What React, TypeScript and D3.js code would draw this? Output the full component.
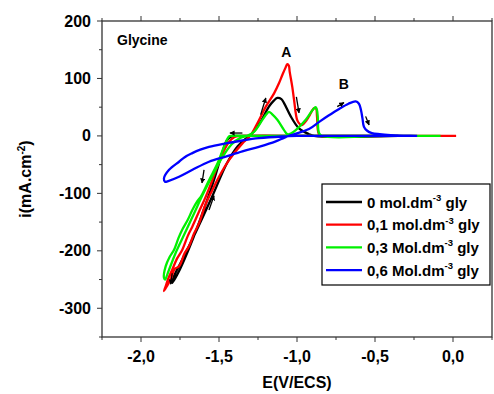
import * as d3 from 'd3';

// cyclic voltammograms, [E (V/ECS), i (mA.cm-2)] in scan order
const black: [number, number][] = [
    [-0.35, 0], [-0.6, 0], [-0.89, 0], [-1.0, 0], [-1.2, 0], [-1.38, 0], [-1.42, -1], [-1.45, -8],
    [-1.48, -30], [-1.53, -75], [-1.6, -130], [-1.68, -188], [-1.75, -232], [-1.8, -256],
    [-1.79, -245], [-1.735, -215], [-1.65, -168], [-1.543, -105], [-1.45, -48], [-1.38, -18],
    [-1.32, -3], [-1.286, 5], [-1.233, 25], [-1.18, 51], [-1.15, 61], [-1.126, 66], [-1.1, 64],
    [-1.083, 57], [-1.04, 34], [-0.987, 13], [-0.923, 3], [-0.89, 0], [-0.35, 0],
];

const red: [number, number][] = [
    [0.02, 0], [-0.5, 0], [-1.0, 0], [-1.3, 0], [-1.4, -2], [-1.44, -12], [-1.5, -45],
    [-1.55, -82], [-1.585, -106], [-1.63, -133], [-1.671, -158], [-1.7, -174], [-1.735, -198],
    [-1.77, -214], [-1.8, -233], [-1.825, -248], [-1.842, -262], [-1.853, -270],
    [-1.835, -262], [-1.81, -250], [-1.785, -232], [-1.756, -227], [-1.72, -204], [-1.692, -192],
    [-1.66, -170], [-1.628, -152], [-1.59, -122], [-1.553, -100], [-1.5, -71], [-1.436, -42],
    [-1.35, -13], [-1.3, 0], [-1.254, 22], [-1.2, 51], [-1.147, 74], [-1.115, 92], [-1.094, 106],
    [-1.075, 118], [-1.062, 125], [-1.052, 122], [-1.047, 112], [-1.03, 85], [-1.019, 63],
    [-0.998, 27], [-0.98, 20], [-0.966, 19], [-0.945, 25], [-0.923, 34], [-0.891, 48],
    [-0.878, 48], [-0.872, 35], [-0.866, 10], [-0.855, 1], [-0.8, 0],
];

const green: [number, number][] = [
    [-0.08, 0], [-0.5, 0], [-1.0, 0], [-1.3, 0], [-1.42, 0], [-1.436, -1], [-1.468, -19],
    [-1.51, -48], [-1.564, -77], [-1.617, -106], [-1.64, -114], [-1.671, -129], [-1.7, -146],
    [-1.735, -163], [-1.76, -178], [-1.788, -198], [-1.815, -210], [-1.842, -227], [-1.853, -247],
    [-1.845, -250], [-1.83, -240], [-1.78, -205], [-1.72, -170], [-1.66, -135], [-1.6, -100],
    [-1.54, -68], [-1.48, -38], [-1.42, -15], [-1.36, -3], [-1.32, 0], [-1.276, 7], [-1.222, 28],
    [-1.195, 38], [-1.18, 42], [-1.16, 38], [-1.126, 28], [-1.083, 10], [-1.062, 3], [-1.04, 4],
    [-1.008, 10], [-0.944, 28], [-0.9, 45], [-0.88, 50], [-0.872, 45], [-0.867, 34], [-0.859, 5],
    [-0.84, 0], [-0.5, 0],
];

const blue: [number, number][] = [
    [-0.23, 0], [-0.6, 0], [-1.0, 0], [-1.1, -1], [-1.244, -4], [-1.35, -8], [-1.457, -13],
    [-1.564, -19], [-1.62, -24], [-1.671, -30], [-1.72, -37], [-1.756, -45], [-1.82, -59],
    [-1.853, -74], [-1.845, -80], [-1.83, -79], [-1.756, -71], [-1.67, -59], [-1.564, -45],
    [-1.457, -36], [-1.35, -27], [-1.244, -19], [-1.14, -10], [-1.08, -3], [-1.03, 2],
    [-0.923, 12], [-0.86, 24], [-0.8, 35], [-0.73, 47], [-0.67, 56], [-0.624, 60], [-0.603, 56],
    [-0.59, 45], [-0.58, 30], [-0.571, 16], [-0.55, 9], [-0.52, 5], [-0.47, 3], [-0.4, 1.5],
    [-0.3, 0.5], [-0.23, 0],
];

const series = [
    { label: '0 mol.dm', unit: '-3', tail: ' gly', color: '#000000', data: black },
    { label: '0,1 mol.dm', unit: '-3', tail: ' gly', color: '#ff0000', data: red },
    { label: '0,3 Mol.dm', unit: '-3', tail: ' gly', color: '#00f000', data: green },
    { label: '0,6 Mol.dm', unit: '-3', tail: ' gly', color: '#0000ff', data: blue },
];

// scan direction arrows, start -> end in data units
const arrows: [number, number, number, number][] = [
    [-1.35, 5, -1.43, 5],
    [-1.596, -59, -1.609, -82],
    [-1.233, 37, -1.2, 66],
    [-1.004, 68, -0.987, 40],
    [-0.742, 51, -0.699, 58],
    [-0.56, 34, -0.538, 19],
    [-1.564, -129, -1.532, -104],
    [-1.8, -239, -1.81, -258],
];

const peakLabels = [
    { text: 'A', x: -1.068, y: 137 },
    { text: 'B', x: -0.70, y: 82 },
];

const xMajor = [-2.0, -1.5, -1.0, -0.5, 0.0];
const xMinor = [-2.25, -1.75, -1.25, -0.75, -0.25, 0.25];
const yMajor = [-300, -200, -100, 0, 100, 200];
const yMinor = [-350, -250, -150, -50, 50, 150];

const font = '"Liberation Sans", Arial, sans-serif';

export default function App() {
    const width = 494;
    const height = 394;
    const margin = { top: 21, right: 2, bottom: 57, left: 102 };

    const x = d3.scaleLinear().domain([-2.25, 0.25]).range([margin.left, width - margin.right]);
    const y = d3.scaleLinear().domain([-350, 200]).range([height - margin.bottom, margin.top]);

    const line = d3.line<[number, number]>()
        .x(d => x(d[0]))
        .y(d => y(d[1]))
        .curve(d3.curveCatmullRom.alpha(0.5));

    const x0 = x.range()[0], x1 = x.range()[1];
    const y0 = y.range()[0], y1 = y.range()[1];
    const axisColor = '#333';
    const fmt = (v: number) => v.toFixed(1).replace('.', ',');

    return (
        <svg width={width} height={height} style={{ position: 'absolute', left: 0, top: 0, background: '#fff' }}
            fontFamily={font} fontWeight="bold">
            <defs>
                <marker id="ah" viewBox="0 0 10 10" refX="9" refY="5" markerWidth="4" markerHeight="4" orient="auto">
                    <path d="M0,0 L10,5 L0,10 z" fill="#000" />
                </marker>
            </defs>

            {/* curves */}
            {series.map(s => (
                <path key={s.label} d={line(s.data) ?? ''} fill="none" stroke={s.color} strokeWidth={2.3} strokeLinejoin="round" />
            ))}

            {/* arrows */}
            {arrows.map((a, i) => (
                <line key={i} x1={x(a[0])} y1={y(a[1])} x2={x(a[2])} y2={y(a[3])} stroke="#000" strokeWidth={1.3} markerEnd="url(#ah)" />
            ))}

            {peakLabels.map(p => (
                <text key={p.text} x={x(p.x)} y={y(p.y)} textAnchor="middle" fontSize={14}>{p.text}</text>
            ))}

            <text x={117} y={45} fontSize={14}>Glycine</text>

            {/* frame */}
            <rect x={x0} y={y1} width={x1 - x0} height={y0 - y1} fill="none" stroke={axisColor} strokeWidth={1.3} />

            {/* x ticks bottom and top */}
            {xMajor.map(v => (
                <g key={'xM' + v}>
                    <line x1={x(v)} x2={x(v)} y1={y0} y2={y0 + 5} stroke={axisColor} />
                    <line x1={x(v)} x2={x(v)} y1={y1} y2={y1 - 5} stroke={axisColor} />
                    <text x={x(v)} y={y0 + 25} textAnchor="middle" fontSize={16}>{fmt(v)}</text>
                </g>
            ))}
            {xMinor.map(v => (
                <g key={'xm' + v}>
                    <line x1={x(v)} x2={x(v)} y1={y0} y2={y0 + 3} stroke={axisColor} />
                    <line x1={x(v)} x2={x(v)} y1={y1} y2={y1 - 3} stroke={axisColor} />
                </g>
            ))}

            {/* y ticks */}
            {yMajor.map(v => (
                <g key={'yM' + v}>
                    <line x1={x0} x2={x0 - 5} y1={y(v)} y2={y(v)} stroke={axisColor} />
                    <text x={x0 - 11} y={y(v) + 5.5} textAnchor="end" fontSize={16}>{v}</text>
                </g>
            ))}
            {yMinor.map(v => (
                <line key={'ym' + v} x1={x0} x2={x0 - 3} y1={y(v)} y2={y(v)} stroke={axisColor} />
            ))}

            {/* axis titles */}
            <text x={(x0 + x1) / 2} y={388} textAnchor="middle" fontSize={16}>E(V/ECS)</text>
            <text transform={`translate(31,${(y0 + y1) / 2}) rotate(-90)`} textAnchor="middle" fontSize={16}>
                i(mA.cm<tspan dy={-6} fontSize={10}>-2</tspan><tspan dy={6}>)</tspan>
            </text>

            {/* legend */}
            <rect x={322} y={184} width={168} height={101} fill="#fff" stroke="#000" strokeWidth={1.2} />
            {series.map((s, i) => {
                const ly = 202 + i * 22.7;
                return (
                    <g key={'lg' + s.label}>
                        <line x1={326} x2={362} y1={ly} y2={ly} stroke={s.color} strokeWidth={2.3} />
                        <text x={367} y={ly + 5.5} fontSize={15}>
                            {s.label}<tspan dy={-6.5} fontSize={9.5}>{s.unit}</tspan><tspan dy={6.5}>{s.tail}</tspan>
                        </text>
                    </g>
                );
            })}
        </svg>
    );
}
